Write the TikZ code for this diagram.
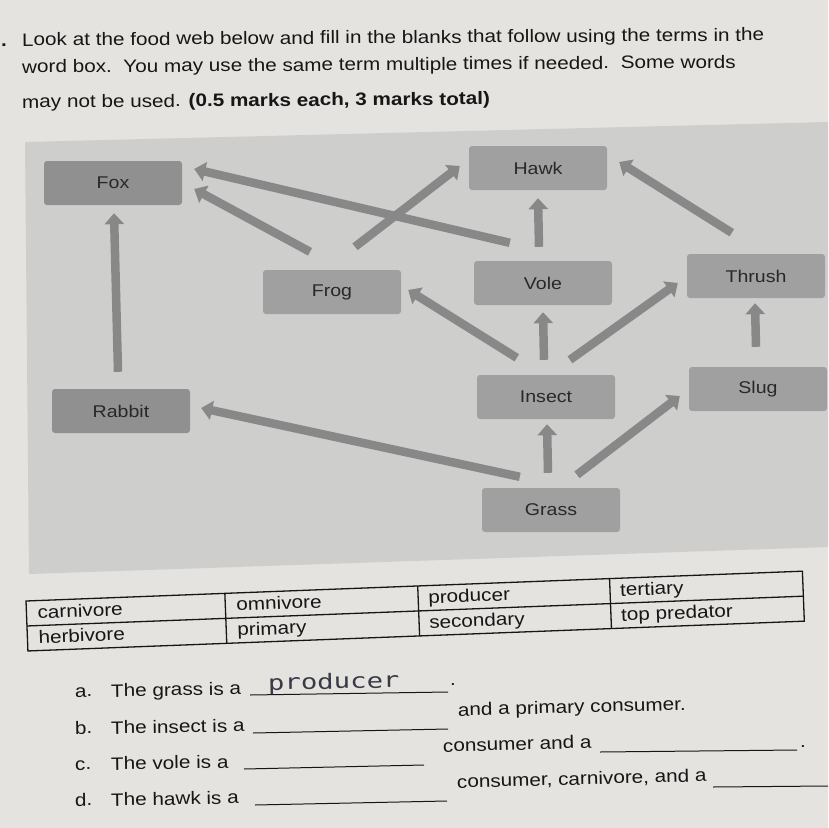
\documentclass[tikz,border=0pt]{standalone}
\usepackage{fontspec}
\setmainfont{Liberation Sans}[FakeStretch=1.15]
\newfontfamily\handfont{DejaVu Sans Mono}[FakeStretch=1.3]
\usetikzlibrary{arrows.meta}
\definecolor{pagegray}{RGB}{228,227,224}
\definecolor{webgray}{RGB}{206,206,205}
\definecolor{boxgray}{RGB}{160,160,160}
\definecolor{darkboxgray}{RGB}{144,144,144}
\definecolor{arrowgray}{RGB}{136,136,136}
\definecolor{boxtext}{RGB}{40,40,40}
\definecolor{inkblack}{RGB}{22,22,22}
\definecolor{pencil}{RGB}{58,58,70}

\begin{document}
\begin{tikzpicture}[
        x=1pt, y=-1pt,
        animalbox/.style={rectangle, rounded corners=3pt, fill=boxgray, minimum width=138pt, minimum height=44pt, inner sep=0pt, text=boxtext, font=\fontsize{17}{20}\selectfont},
        darkanimalbox/.style={animalbox, fill=darkboxgray},
        feeds/.style={draw=arrowgray, line width=8.5pt, -{Triangle[length=11pt, width=19pt]}},
        sheettext/.style={anchor=base west, inner sep=0pt, text=inkblack, font=\fontsize{18}{21}\selectfont},
        blankline/.style={draw=inkblack, line width=1pt},
        tableline/.style={draw=inkblack, line width=1.3pt}
    ]
        \useasboundingbox (0,0) rectangle (828,828);
        \clip (0,0) rectangle (828,828);
        \fill[pagegray] (0,0) rectangle (828,828);
        % Heading
        \node[sheettext, font=\bfseries\fontsize{18}{21}\selectfont] (qnum) at (1,46) {.};
        \node[sheettext, rotate=0.4] (head1) at (22,46) {Look at the food web below and fill in the blanks that follow using the terms in the};
        \node[sheettext, rotate=0.4] (head2) at (22,73) {word box.\ \ You may use the same term multiple times if needed.\ \ Some words};
        \node[sheettext, rotate=0.4] (head3) at (22,108) {may not be used. \textbf{(0.5 marks each, 3 marks total)}};
        % Food web
        \fill[webgray] (25,142) -- (828,122) -- (828,547) -- (29,574) -- cycle;
        \node[darkanimalbox] (fox) at (113,183) {Fox};
        \node[animalbox] (hawk) at (538,168) {Hawk};
        \node[animalbox] (frog) at (332,292) {Frog};
        \node[animalbox] (vole) at (543,283) {Vole};
        \node[animalbox] (thrush) at (756,276) {Thrush};
        \node[darkanimalbox] (rabbit) at (121,411) {Rabbit};
        \node[animalbox] (insect) at (546,397) {Insect};
        \node[animalbox] (slug) at (758,389) {Slug};
        \node[animalbox] (grass) at (551,510) {Grass};
        % Arrows
        \draw[feeds] ([xshift=-3pt, yshift=17pt]rabbit.north) -- ([xshift=1pt, yshift=-8pt]fox.south);
        \draw[feeds] ([xshift=-22pt, yshift=18pt]frog.north) -- ([xshift=12pt, yshift=-6pt]fox.east);
        \draw[feeds] ([xshift=36pt, yshift=18pt]vole.north west) -- ([xshift=12pt, yshift=14pt]fox.east);
        \draw[feeds] ([xshift=23pt, yshift=23pt]frog.north) -- ([xshift=-9pt, yshift=2pt]hawk.west);
        \draw[feeds] ([xshift=-4pt, yshift=14pt]vole.north) -- ([yshift=-8pt]hawk.south);
        \draw[feeds] ([xshift=45pt, yshift=21pt]thrush.north west) -- ([xshift=12pt, yshift=6pt]hawk.east);
        \draw[feeds] ([xshift=40pt, yshift=17pt]insect.north west) -- ([xshift=7pt, yshift=2pt]frog.east);
        \draw[feeds] ([xshift=-2pt, yshift=15pt]insect.north) -- ([yshift=-7pt]vole.south);
        \draw[feeds] ([xshift=24pt, yshift=15pt]insect.north) -- ([xshift=-9pt, yshift=-7pt]thrush.west);
        \draw[feeds] ([xshift=-2pt, yshift=20pt]slug.north) -- ([xshift=-1pt, yshift=-5pt]thrush.south);
        \draw[feeds] ([xshift=38pt, yshift=11pt]grass.north west) -- ([xshift=11pt, yshift=3pt]rabbit.east);
        \draw[feeds] ([xshift=-3pt, yshift=15pt]grass.north) -- ([xshift=1pt, yshift=-5pt]insect.south);
        \draw[feeds] ([xshift=26pt, yshift=13pt]grass.north) -- ([xshift=-9pt, yshift=-7pt]slug.west);
        % Word box
        \begin{scope}[shift={(26,601)}, rotate=2.2, transform shape]
            \draw[tableline] (0,0) rectangle (777,50);
            \draw[tableline] (0,25) -- (777,25);
            \foreach \x in {199,392,584} {
                \draw[tableline] (\x,0) -- (\x,50);
            }
            \foreach \x/\y/\word [count=\i] in {
                11/18/carnivore,
                210/18/omnivore,
                402/18/producer,
                594/18/tertiary,
                11/43/herbivore,
                210/43/primary,
                402/43/secondary,
                594/43/top predator} {
                \node[sheettext] (word\i) at (\x,\y) {\word};
            }
        \end{scope}
        % Questions
        \node[sheettext, rotate=1] (qa) at (75,697) {a.};
        \node[sheettext, rotate=1] (qatext) at (111,697) {The grass is a};
        \draw[blankline] (250,695) -- (448,692);
        \node[sheettext, rotate=1, text=pencil, font=\handfont\fontsize{21}{24}\selectfont] (answer) at (268,690) {producer};
        \node[sheettext] (qadot) at (450,685) {.};
        \node[sheettext, rotate=1] (qb) at (75,734) {b.};
        \node[sheettext, rotate=1] (qbtext) at (111,734) {The insect is a};
        \draw[blankline] (253,733) -- (448,729);
        \node[sheettext, rotate=1.5] (qbend) at (458,716) {and a primary consumer.};
        \node[sheettext, rotate=1] (qc) at (75,770) {c.};
        \node[sheettext, rotate=1] (qctext) at (111,770) {The vole is a};
        \draw[blankline] (244,769) -- (424,765);
        \node[sheettext, rotate=1.5] (qcmid) at (443,752) {consumer and a};
        \draw[blankline] (600,752) -- (797,750);
        \node[sheettext] (qcdot) at (800,747) {.};
        \node[sheettext, rotate=1] (qd) at (75,806) {d.};
        \node[sheettext, rotate=1] (qdtext) at (111,806) {The hawk is a};
        \draw[blankline] (255,805) -- (447,801);
        \node[sheettext, rotate=1.5] (qdmid) at (457,788) {consumer, carnivore, and a};
        \draw[blankline] (713,787) -- (828,786);
    \end{tikzpicture}
\end{document}
